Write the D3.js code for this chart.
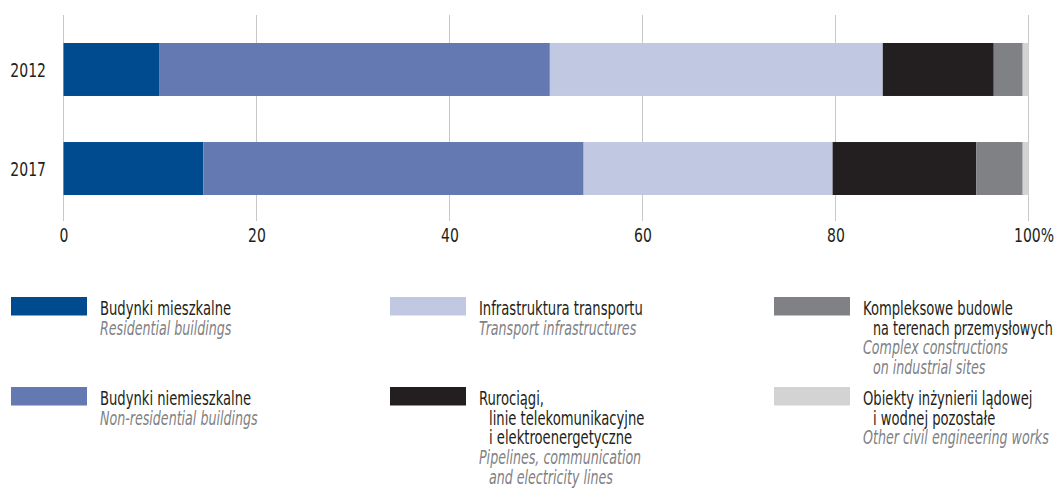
<!DOCTYPE html>
<html><head><meta charset="utf-8">
<script src="https://cdn.jsdelivr.net/npm/d3@7"></script>
<style>
html,body{margin:0;padding:0;background:#fff;}
text{font-family:"DejaVu Sans Condensed","DejaVu Sans",sans-serif;}
</style></head>
<body>
<svg id="c" width="1056" height="489"></svg>
<script>
const years = ["2012", "2017"];
const seriesKeys = ["res", "nonres", "transport", "pipes", "complex", "other"];
const res = [9.9, 14.5];
const nonres = [40.5, 39.4];
const transport = [34.5, 25.8];
const pipes = [11.5, 14.9];
const complex = [3.0, 4.8];
const other = [0.6, 0.6];
const colors = ["#004a8f", "#6479b1", "#c1c8e1", "#231f20", "#808184", "#d3d3d4"];
const xTicks = [0, 20, 40, 60, 80, 100];
const xTickLabels = ["0", "20", "40", "60", "80", "100%"];
const legendPl = [
  ["Budynki mieszkalne"],
  ["Budynki niemieszkalne"],
  ["Infrastruktura transportu"],
  ["Rurociągi,", "  linie telekomunikacyjne", "  i elektroenergetyczne"],
  ["Kompleksowe budowle", "  na terenach przemysłowych"],
  ["Obiekty inżynierii lądowej", "  i wodnej pozostałe"]
];
const legendEn = [
  ["Residential buildings"],
  ["Non-residential buildings"],
  ["Transport infrastructures"],
  ["Pipelines, communication", "  and electricity lines"],
  ["Complex constructions", "  on industrial sites"],
  ["Other civil engineering works"]
];

const seriesVals = {res, nonres, transport, pipes, complex, other};
const rows = years.map((y, i) => {
  const o = {year: y};
  seriesKeys.forEach(k => o[k] = seriesVals[k][i]);
  return o;
});
const stacked = d3.stack().keys(seriesKeys)(rows);

const svg = d3.select("#c");
const x = d3.scaleLinear().domain([0, 100]).range([63.5, 1028.5]);
const yb = d3.scaleBand().domain(years).range([43, 195]).paddingInner(0.465).paddingOuter(0);

const FS = 19;
const MAXX = 1053;
function ctext(parent, tx, ty, str, opts) {
  opts = opts || {};
  let s = opts.s || 0.77;
  const g = parent.append("g");
  const t = g.append("text").attr("x", 0).attr("y", 0)
    .attr("font-size", opts.fs || FS)
    .attr("font-style", opts.it ? "italic" : "normal")
    .attr("text-anchor", opts.anchor || "start")
    .attr("fill", opts.fill || "#231f20")
    .text(str);
  if (opts.fit) {
    const w = t.node().getComputedTextLength();
    if (tx + w * s > MAXX) s = (MAXX - tx) / w;
  }
  g.attr("transform", `translate(${tx},${ty}) scale(${s},1)`);
  return t;
}

// gridlines
svg.append("g").selectAll("line").data(xTicks).join("line")
  .attr("x1", d => x(d)).attr("x2", d => x(d))
  .attr("y1", 15).attr("y2", 221)
  .attr("stroke", "#c8c8c8").attr("stroke-width", 1);

// bars
svg.append("g").selectAll("g").data(stacked).join("g")
  .attr("fill", (d, i) => colors[i])
  .selectAll("rect").data(d => d).join("rect")
  .attr("x", d => x(d[0]))
  .attr("width", d => x(d[1]) - x(d[0]))
  .attr("y", d => yb(d.data.year))
  .attr("height", yb.bandwidth());

// year labels
const gy = svg.append("g");
years.forEach(yr => ctext(gy, 46, yb(yr) + yb.bandwidth() / 2 + 7.8, yr, {anchor: "end", s: 0.82}));

// x axis labels (positions from the scale via axis)
const xAxis = d3.axisBottom(x).tickValues(xTicks).tickFormat((d, i) => xTickLabels[i]).tickSize(0).tickPadding(0);
const gx = svg.append("g").attr("transform", "translate(0,242)").call(xAxis);
gx.select(".domain").remove();
gx.selectAll(".tick").each(function(d, i) {
  const t = d3.select(this);
  t.select("text").remove();
  const lbl = xTickLabels[i];
  const off = d === 100 ? 5 : 0;
  ctext(t, off, 0, lbl, {anchor: "middle", s: 0.82});
});

// legend
const colX = [11, 390, 774];
const rowY = [297, 387];
const lh = 19.7;
for (let i = 0; i < 6; i++) {
  const col = Math.floor(i / 2), row = i % 2;
  const sx = colX[col], sy = rowY[row];
  const g = svg.append("g");
  g.append("rect").attr("x", sx).attr("y", sy).attr("width", 76).attr("height", 18.5).attr("fill", colors[i]);
  const tx = sx + 89;
  const base = sy + 18;
  const lines = legendPl[i].map(t => ({t, it: false})).concat(legendEn[i].map(t => ({t, it: true})));
  lines.forEach((ln, j) => {
    const indent = ln.t.startsWith("  ") ? 10 : 0;
    ctext(g, tx + indent, base + j * lh, ln.t.trim(),
      {it: ln.it, fill: ln.it ? "#808184" : "#231f20", s: ln.it ? 0.74 : 0.77, fit: true});
  });
}
</script>
</body></html>
